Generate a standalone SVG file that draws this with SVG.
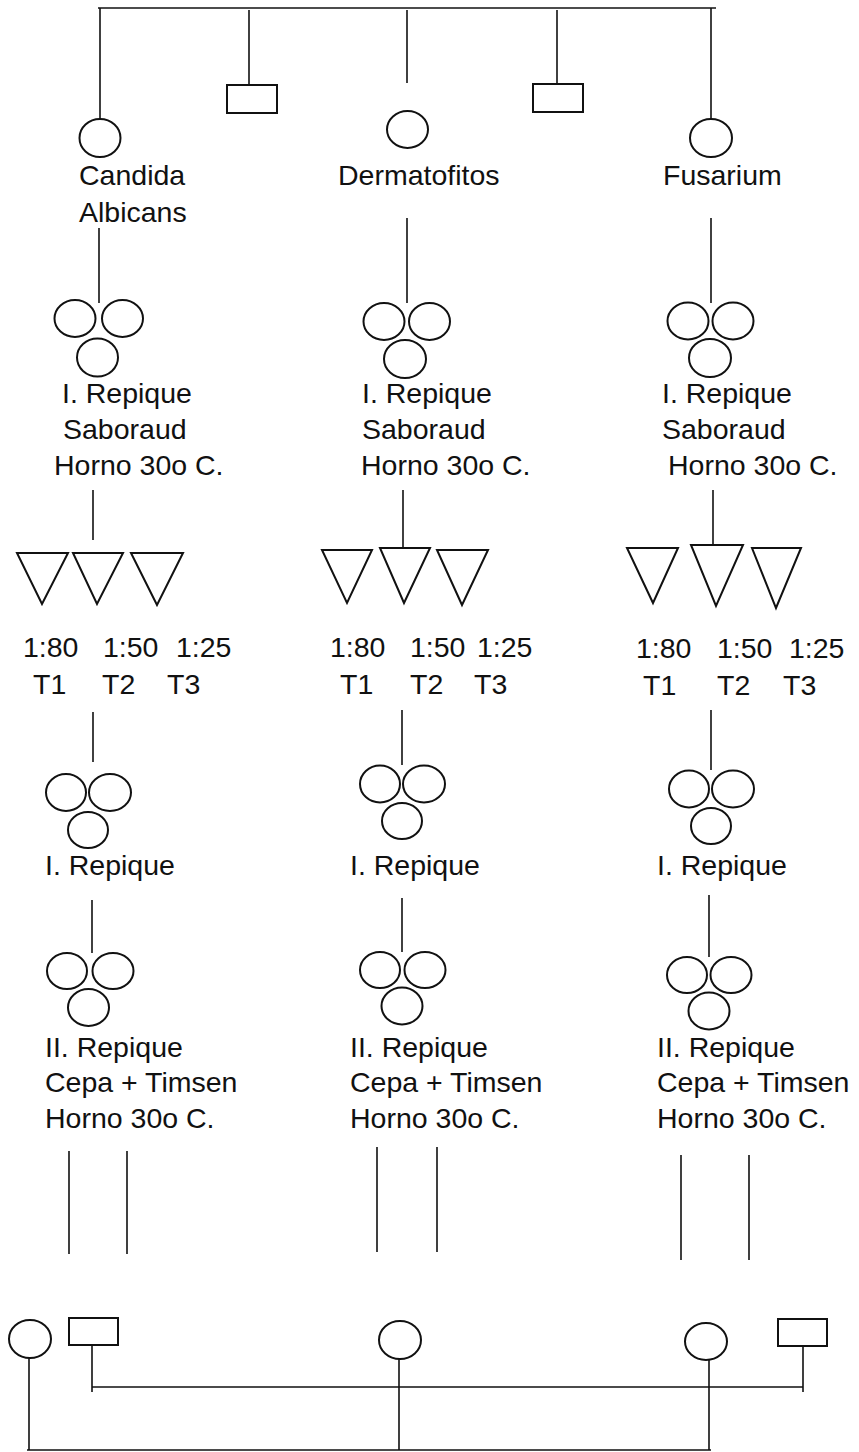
<svg xmlns="http://www.w3.org/2000/svg" width="859" height="1452" viewBox="0 0 859 1452">
<style>
.ln{stroke:#111;stroke-width:1.6;fill:none}
.sh{stroke:#111;stroke-width:2;fill:#fff}
text{font-family:"Liberation Sans",Arial,sans-serif;font-size:28.5px;fill:#111}
</style>
<rect width="859" height="1452" fill="#fff"/>
<g id="connectors" class="ln">
<path d="M98 8H716"/>
<path d="M100 8V119"/>
<path d="M249 10V85"/>
<path d="M407 10V83"/>
<path d="M557 10V84"/>
<path d="M711 8V119"/>
<path d="M99 228V303"/>
<path d="M407 218V303"/>
<path d="M711 218V303"/>
<path d="M93 490V540"/>
<path d="M403 490V548"/>
<path d="M713 490V545"/>
<path d="M93 712V762"/>
<path d="M402 710V765"/>
<path d="M711 710V770"/>
<path d="M92 900V953"/>
<path d="M402 898V952"/>
<path d="M709 895V957"/>
<path d="M69 1151V1254M127 1151V1254"/>
<path d="M377 1147V1252M437 1147V1252"/>
<path d="M681 1155V1260M749 1155V1260"/>
<path d="M92 1345V1392M92 1387H803M803 1346V1392"/>
<path d="M29 1358V1450M399 1359V1450M709 1360V1450M27 1450H711"/>
</g>
<g id="n-top-box1"><rect class="sh" x="227" y="85" width="50" height="28"/></g>
<g id="n-top-box2"><rect class="sh" x="533" y="84" width="50" height="28"/></g>
<g id="n-candida"><ellipse class="sh" cx="100" cy="138" rx="20.5" ry="19"/><text x="79" y="185">Candida</text><text x="79" y="222">Albicans</text></g>
<g id="n-dermatofitos"><ellipse class="sh" cx="407.5" cy="129.5" rx="20.5" ry="18.5"/><text x="338" y="185">Dermatofitos</text></g>
<g id="n-fusarium"><ellipse class="sh" cx="711" cy="138" rx="21" ry="19"/><text x="663" y="185">Fusarium</text></g>
<g id="n-rep1-left"><ellipse class="sh" cx="75" cy="318.5" rx="20.5" ry="18.5"/><ellipse class="sh" cx="122.5" cy="318.5" rx="20.5" ry="18.5"/><ellipse class="sh" cx="97.5" cy="357.5" rx="20.5" ry="19"/>
<text x="62" y="403">I. Repique</text><text x="63" y="439">Saboraud</text><text x="54" y="475">Horno 30o C.</text></g>
<g id="n-rep1-center"><ellipse class="sh" cx="384" cy="321.5" rx="20.5" ry="18.5"/><ellipse class="sh" cx="429.5" cy="321.5" rx="20.5" ry="18.5"/><ellipse class="sh" cx="405" cy="359" rx="21" ry="19"/>
<text x="362" y="403">I. Repique</text><text x="362" y="439">Saboraud</text><text x="361" y="475">Horno 30o C.</text></g>
<g id="n-rep1-right"><ellipse class="sh" cx="688" cy="321" rx="20.5" ry="18.5"/><ellipse class="sh" cx="733" cy="321" rx="20.5" ry="18.5"/><ellipse class="sh" cx="710" cy="358" rx="21" ry="19"/>
<text x="662" y="403">I. Repique</text><text x="662" y="439">Saboraud</text><text x="668" y="475">Horno 30o C.</text></g>
<g id="n-dil-left"><path class="sh" d="M17 553H68L42 604Z M73 553H123L97 604Z M131 553H183L157 605Z"/>
<text x="23" y="657">1:80</text><text x="103" y="657">1:50</text><text x="176" y="657">1:25</text>
<text x="33" y="694">T1</text><text x="102" y="694">T2</text><text x="167" y="694">T3</text></g>
<g id="n-dil-center"><path class="sh" d="M322 550H372L347 603Z M380 548H430L404 603Z M437 550H488L462 605Z"/>
<text x="330" y="657">1:80</text><text x="410" y="657">1:50</text><text x="477" y="657">1:25</text>
<text x="340" y="694">T1</text><text x="410" y="694">T2</text><text x="474" y="694">T3</text></g>
<g id="n-dil-right"><path class="sh" d="M627 548H678L653 603Z M691 545H743L716 606Z M752 548H801L776 608Z"/>
<text x="636" y="658">1:80</text><text x="717" y="658">1:50</text><text x="789" y="658">1:25</text>
<text x="643" y="695">T1</text><text x="717" y="695">T2</text><text x="783" y="695">T3</text></g>
<g id="n-rep2-left"><ellipse class="sh" cx="66" cy="792.5" rx="20" ry="18.5"/><ellipse class="sh" cx="110" cy="792.5" rx="21" ry="18.5"/><ellipse class="sh" cx="88" cy="830" rx="20" ry="18"/>
<text x="45" y="875">I. Repique</text></g>
<g id="n-rep2-center"><ellipse class="sh" cx="380" cy="784" rx="20" ry="18.5"/><ellipse class="sh" cx="424" cy="784" rx="21" ry="18.5"/><ellipse class="sh" cx="402" cy="821" rx="20" ry="18"/>
<text x="350" y="875">I. Repique</text></g>
<g id="n-rep2-right"><ellipse class="sh" cx="689" cy="789" rx="20" ry="18.5"/><ellipse class="sh" cx="733" cy="789" rx="21" ry="18.5"/><ellipse class="sh" cx="711" cy="826" rx="20" ry="18"/>
<text x="657" y="875">I. Repique</text></g>
<g id="n-rep3-left"><ellipse class="sh" cx="67" cy="971" rx="20" ry="18"/><ellipse class="sh" cx="113" cy="971" rx="20.5" ry="18"/><ellipse class="sh" cx="88.5" cy="1007.5" rx="20.5" ry="18.5"/>
<text x="45" y="1057">II. Repique</text><text x="45" y="1092">Cepa + Timsen</text><text x="45" y="1128">Horno 30o C.</text></g>
<g id="n-rep3-center"><ellipse class="sh" cx="380" cy="970" rx="20" ry="18"/><ellipse class="sh" cx="425" cy="970" rx="20.5" ry="18"/><ellipse class="sh" cx="402" cy="1006" rx="20.5" ry="18.5"/>
<text x="350" y="1057">II. Repique</text><text x="350" y="1092">Cepa + Timsen</text><text x="350" y="1128">Horno 30o C.</text></g>
<g id="n-rep3-right"><ellipse class="sh" cx="687" cy="975" rx="20" ry="18"/><ellipse class="sh" cx="731" cy="975" rx="20.5" ry="18"/><ellipse class="sh" cx="709" cy="1011" rx="20.5" ry="18.5"/>
<text x="657" y="1057">II. Repique</text><text x="657" y="1092">Cepa + Timsen</text><text x="657" y="1128">Horno 30o C.</text></g>
<g id="n-bot-circle-left"><ellipse class="sh" cx="30" cy="1339" rx="21" ry="19"/></g>
<g id="n-bot-box-left"><rect class="sh" x="69" y="1318" width="49" height="27"/></g>
<g id="n-bot-circle-center"><ellipse class="sh" cx="400" cy="1340" rx="21" ry="19"/></g>
<g id="n-bot-circle-right"><ellipse class="sh" cx="706" cy="1341.5" rx="21" ry="18.5"/></g>
<g id="n-bot-box-right"><rect class="sh" x="778" y="1319" width="49" height="27"/></g>
</svg>
